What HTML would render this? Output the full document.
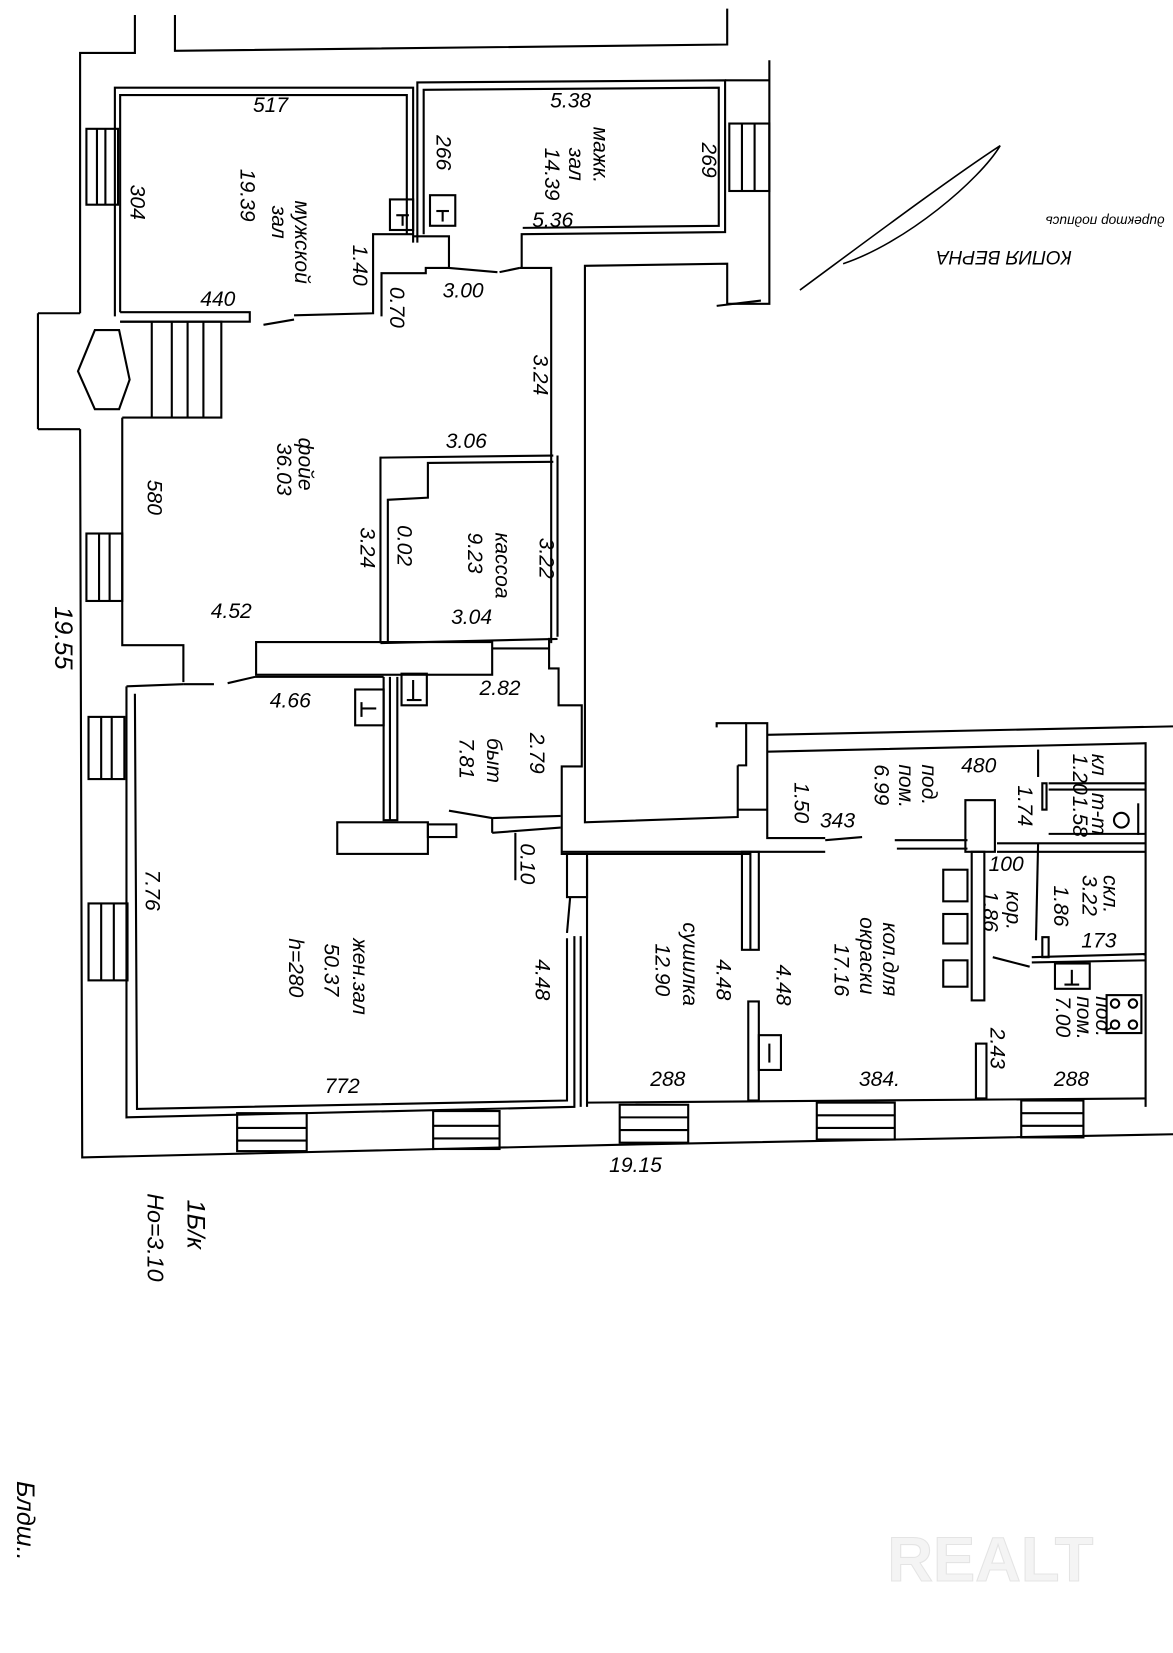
<!DOCTYPE html>
<html><head><meta charset="utf-8"><style>
html,body{margin:0;padding:0;background:#fff;}
svg{display:block;}
text{font-family:"Liberation Sans","DejaVu Sans",sans-serif;font-style:italic;fill:#000;}
</style></head><body>
<svg width="1173" height="1653" viewBox="0 0 1113 1568" xmlns="http://www.w3.org/2000/svg">
<g fill="none" stroke="#000" stroke-width="2">
<!-- top outer -->
<polyline points="128,14 128,50 76,50 76,297"/>
<polyline points="166,14 166,48 690,42 690,8"/>
<polyline points="76,407 78,1098 586,1086 1113,1076"/>
<line x1="36" y1="297" x2="76" y2="297"/><line x1="36" y1="407" x2="76" y2="407"/><line x1="36" y1="297" x2="36" y2="407"/>
<polygon points="90,313 113,313 123,360 113,388 90,388 74,352"/>
<!-- room 1 -->
<polyline points="109,300 109,83 392,83 392,230"/>
<polyline points="114,296 114,90 386,90 386,222"/>
<polyline points="114,296 237,296 237,305 114,305"/>
<line x1="250" y1="308" x2="279" y2="303"/>
<polyline points="279,299 354,297 354,222 392,222"/>
<polyline points="362,300 362,259 404,259 404,254 426,254 426,224 392,224"/>
<rect x="370" y="189" width="22" height="29"/><line x1="376" y1="204" x2="388" y2="204"/><line x1="382" y1="204" x2="382" y2="214"/>
<!-- room 2 -->
<polyline points="396,230 396,78 688,76 688,220 495,222 495,254"/>
<polyline points="402,222 402,85 682,83 682,214 496,216"/>
<rect x="408" y="185" width="24" height="29"/><line x1="414" y1="200" x2="426" y2="200"/><line x1="420" y1="200" x2="420" y2="210"/>
<line x1="426" y1="254" x2="472" y2="258"/><line x1="474" y1="258" x2="493" y2="254"/>
<polyline points="493,254 523,254 523,610"/>
<!-- right of corridor top -->
<polyline points="700,726 700,775 555,780 555,252 690,250 690,288 730,288 730,57"/>
<line x1="680" y1="290" x2="722" y2="285"/>
<polyline points="688,76 730,76"/>
<rect x="692" y="117" width="38" height="64"/><line x1="704" y1="117" x2="704" y2="181"/><line x1="716" y1="117" x2="716" y2="181"/>
<!-- stairs -->
<polyline points="114,305 210,305 210,396 116,396"/>
<line x1="144" y1="305" x2="144" y2="396"/><line x1="163" y1="305" x2="163" y2="396"/><line x1="178" y1="305" x2="178" y2="396"/><line x1="193" y1="305" x2="193" y2="396"/>
<!-- left walls -->
<polyline points="116,396 116,612 174,612 174,647"/>
<rect x="82" y="506" width="34" height="64"/><line x1="94" y1="506" x2="94" y2="570"/><line x1="104" y1="506" x2="104" y2="570"/>
<rect x="82" y="122" width="30" height="72"/><line x1="92" y1="122" x2="92" y2="194"/><line x1="100" y1="122" x2="100" y2="194"/>
<rect x="84" y="680" width="34" height="59"/><line x1="96" y1="680" x2="96" y2="739"/><line x1="106" y1="680" x2="106" y2="739"/>
<rect x="84" y="857" width="37" height="73"/><line x1="96" y1="857" x2="96" y2="930"/><line x1="108" y1="857" x2="108" y2="930"/>
<!-- kassa -->
<polyline points="361,610 361,434 525,432"/>
<polyline points="529,604 529,432"/>
<polyline points="368,610 368,474 406,472 406,439 525,438"/>
<line x1="361" y1="610" x2="529" y2="606"/>
<rect x="243" y="609" width="224" height="31"/>
<!-- big room -->
<polyline points="120,651 174,649"/><line x1="174" y1="649" x2="203" y2="649"/>
<line x1="216" y1="648" x2="242" y2="642"/>
<polyline points="242,642 364,642"/>
<polyline points="120,651 120,1060 545,1050 545,888"/>
<polyline points="128,658 130,1052 538,1044 538,890"/>
<polyline points="364,642 364,778 377,778 377,642"/>
<line x1="370" y1="642" x2="370" y2="778"/>
<rect x="337" y="654" width="27" height="34"/><line x1="343" y1="672" x2="357" y2="672"/><line x1="343" y1="666" x2="343" y2="680"/>
<rect x="381" y="639" width="24" height="30"/><line x1="392" y1="645" x2="392" y2="664"/><line x1="386" y1="664" x2="400" y2="664"/>
<rect x="320" y="780" width="86" height="30"/>
<rect x="406" y="782" width="27" height="12"/>
<line x1="426" y1="769" x2="467" y2="776"/>
<polyline points="467,776 532,774"/><polyline points="467,790 532,785"/><polyline points="467,776 467,790"/>
<line x1="489" y1="790" x2="489" y2="835"/>
<polyline points="467,615 521,615"/>
<polyline points="521,605 521,634 530,634 530,669 552,669 552,727 533,727 533,810 712,810"/>
<polyline points="700,726 708,726 708,686 728,686 728,795 783,795"/>
<polyline points="708,686 680,686 680,690"/>
<rect x="538" y="810" width="19" height="41"/>
<line x1="541" y1="851" x2="538" y2="885"/>
<line x1="551" y1="888" x2="551" y2="1050"/>
<!-- right block top -->
<polyline points="728,697 1113,689"/>
<polyline points="728,713 1087,705 1087,1050"/>
<line x1="700" y1="768" x2="728" y2="768"/>
<polyline points="533,808 783,808"/>
<line x1="783" y1="797" x2="818" y2="794"/>
<polyline points="849,797 918,797"/><polyline points="851,805 918,805"/>
<rect x="916" y="759" width="28" height="49"/>
<line x1="946" y1="800" x2="1087" y2="800"/><line x1="946" y1="808" x2="1087" y2="808"/>
<line x1="985" y1="711" x2="985" y2="737"/>
<rect x="989" y="743" width="4" height="25"/>
<line x1="995" y1="743" x2="1087" y2="743"/><line x1="995" y1="749" x2="1087" y2="749"/>
<line x1="995" y1="791" x2="1087" y2="791"/>
<circle cx="1064" cy="778" r="7"/><line x1="1080" y1="762" x2="1080" y2="792"/>
<!-- kor -->
<rect x="922" y="808" width="12" height="141"/>
<rect x="895" y="825" width="23" height="30"/><rect x="895" y="867" width="23" height="28"/><rect x="895" y="911" width="23" height="25"/>
<line x1="985" y1="800" x2="983" y2="892"/>
<rect x="989" y="889" width="6" height="19"/>
<polyline points="979,908 1087,905"/><polyline points="979,913 1087,911"/>
<line x1="942" y1="908" x2="977" y2="917"/>
<rect x="1001" y="914" width="33" height="24"/><line x1="1017" y1="920" x2="1017" y2="934"/><line x1="1010" y1="934" x2="1024" y2="934"/>
<rect x="1050" y="944" width="33" height="36"/>
<circle cx="1058" cy="952" r="4"/><circle cx="1075" cy="952" r="4"/><circle cx="1058" cy="972" r="4"/><circle cx="1075" cy="972" r="4"/>
<!-- sushilka/kol -->
<polyline points="557,815 557,1050"/>
<rect x="704" y="808" width="16" height="93"/><line x1="712" y1="808" x2="712" y2="901"/>
<rect x="710" y="950" width="10" height="94"/>
<rect x="720" y="982" width="21" height="33"/><line x1="730" y1="990" x2="730" y2="1008"/>
<line x1="557" y1="1046" x2="1087" y2="1042"/>
<rect x="926" y="990" width="10" height="52"/>
<!-- bottom windows -->
<rect x="225" y="1056" width="66" height="36"/><line x1="225" y1="1070" x2="291" y2="1070"/><line x1="225" y1="1082" x2="291" y2="1082"/>
<rect x="411" y="1054" width="63" height="36"/><line x1="411" y1="1068" x2="474" y2="1068"/><line x1="411" y1="1080" x2="474" y2="1080"/>
<rect x="588" y="1048" width="65" height="36"/><line x1="588" y1="1060" x2="653" y2="1060"/><line x1="588" y1="1072" x2="653" y2="1072"/>
<rect x="775" y="1046" width="74" height="35"/><line x1="775" y1="1058" x2="849" y2="1058"/><line x1="775" y1="1070" x2="849" y2="1070"/>
<rect x="969" y="1044" width="59" height="35"/><line x1="969" y1="1056" x2="1028" y2="1056"/><line x1="969" y1="1068" x2="1028" y2="1068"/>
</g>
<!-- signature -->
<path d="M759 275 C820 230 900 170 949 138 C930 170 860 230 800 250" fill="none" stroke="#000" stroke-width="1.5"/>
<g font-size="20">
<text x="240" y="106">517</text>
<text x="522" y="102">5.38</text>
<text x="190" y="290">440</text>
<text x="420" y="282">3.00</text>
<text x="505" y="215">5.36</text>
<text x="423" y="425">3.06</text>
<text x="200" y="586">4.52</text>
<text x="428" y="592">3.04</text>
<text x="256" y="671">4.66</text>
<text x="455" y="659">2.82</text>
<text x="778" y="785">343</text>
<text x="912" y="733">480</text>
<text x="938" y="826">100</text>
<text x="1026" y="899">173</text>
<text x="308" y="1037">772</text>
<text x="617" y="1030">288</text>
<text x="815" y="1030">384.</text>
<text x="1000" y="1030">288</text>
<text x="578" y="1112">19.15</text>
</g>
<g font-size="20">
<text transform="translate(124,175) rotate(90)">304</text>
<text transform="translate(280,190) rotate(90)">мужской</text>
<text transform="translate(258,195) rotate(90)">зал</text>
<text transform="translate(228,160) rotate(90)">19.39</text>
<text transform="translate(414,128) rotate(90)">266</text>
<text transform="translate(563,120) rotate(90)">мажк.</text>
<text transform="translate(540,140) rotate(90)">зал</text>
<text transform="translate(517,140) rotate(90)">14.39</text>
<text transform="translate(666,135) rotate(90)">269</text>
<text transform="translate(335,232) rotate(90)">1.40</text>
<text transform="translate(370,272) rotate(90)">0.70</text>
<text transform="translate(506,336) rotate(90)">3.24</text>
<text transform="translate(283,415) rotate(90)">фойе</text>
<text transform="translate(263,420) rotate(90)">36.03</text>
<text transform="translate(140,455) rotate(90)">580</text>
<text transform="translate(342,500) rotate(90)">3.24</text>
<text transform="translate(377,498) rotate(90)">0.02</text>
<text transform="translate(470,505) rotate(90)">кассоа</text>
<text transform="translate(444,505) rotate(90)">9.23</text>
<text transform="translate(512,510) rotate(90)">3.22</text>
<text transform="translate(462,700) rotate(90)">быт</text>
<text transform="translate(436,700) rotate(90)">7.81</text>
<text transform="translate(503,695) rotate(90)">2.79</text>
<text transform="translate(494,800) rotate(90)">0.10</text>
<text transform="translate(138,825) rotate(90)">7.76</text>
<text transform="translate(335,890) rotate(90)">жен.зал</text>
<text transform="translate(308,895) rotate(90)">50.37</text>
<text transform="translate(274,890) rotate(90)">h=280</text>
<text transform="translate(508,910) rotate(90)">4.48</text>
<text transform="translate(648,875) rotate(90)">сушилка</text>
<text transform="translate(622,895) rotate(90)">12.90</text>
<text transform="translate(680,910) rotate(90)">4.48</text>
<text transform="translate(737,915) rotate(90)">4.48</text>
<text transform="translate(838,875) rotate(90)">кол.для</text>
<text transform="translate(816,870) rotate(90)">окраски</text>
<text transform="translate(792,895) rotate(90)">17.16</text>
<text transform="translate(754,742) rotate(90)">1.50</text>
<text transform="translate(830,725) rotate(90)">6.99</text>
<text transform="translate(875,725) rotate(90)">под.</text>
<text transform="translate(853,725) rotate(90)">пом.</text>
<text transform="translate(966,745) rotate(90)">1.74</text>
<text transform="translate(1036,715) rotate(90)">кл</text>
<text transform="translate(1018,715) rotate(90)">1.20</text>
<text transform="translate(1036,752) rotate(90)">т-т</text>
<text transform="translate(1018,755) rotate(90)">1.58</text>
<text transform="translate(955,845) rotate(90)">кор.</text>
<text transform="translate(933,845) rotate(90)">1.86</text>
<text transform="translate(1047,830) rotate(90)">скл.</text>
<text transform="translate(1027,830) rotate(90)">3.22</text>
<text transform="translate(1000,840) rotate(90)">1.86</text>
<text transform="translate(940,975) rotate(90)">2.43</text>
<text transform="translate(1040,945) rotate(90)">под.</text>
<text transform="translate(1022,945) rotate(90)">пом.</text>
<text transform="translate(1002,945) rotate(90)">7.00</text>
<text transform="translate(52,575) rotate(90)" font-size="24">19.55</text>
<text transform="translate(178,1138) rotate(90)" font-size="24">1Б/к</text>
<text transform="translate(140,1132) rotate(90)" font-size="22">Но=3.10</text>
<text transform="translate(16,1405) rotate(90)" font-size="24">Блдш..</text>
<text transform="translate(1017,238) rotate(180)" font-size="18" font-style="normal">КОПИЯ ВЕРНА</text>
<text transform="translate(1105,205) rotate(180)" font-size="13">директор подпись</text>
</g>
<text x="842" y="1500" font-size="60" style="fill:#f4f4f4;stroke:#e4e4e4;stroke-width:1;font-style:normal;font-weight:bold;">REALT</text>
</svg>
</body></html>
